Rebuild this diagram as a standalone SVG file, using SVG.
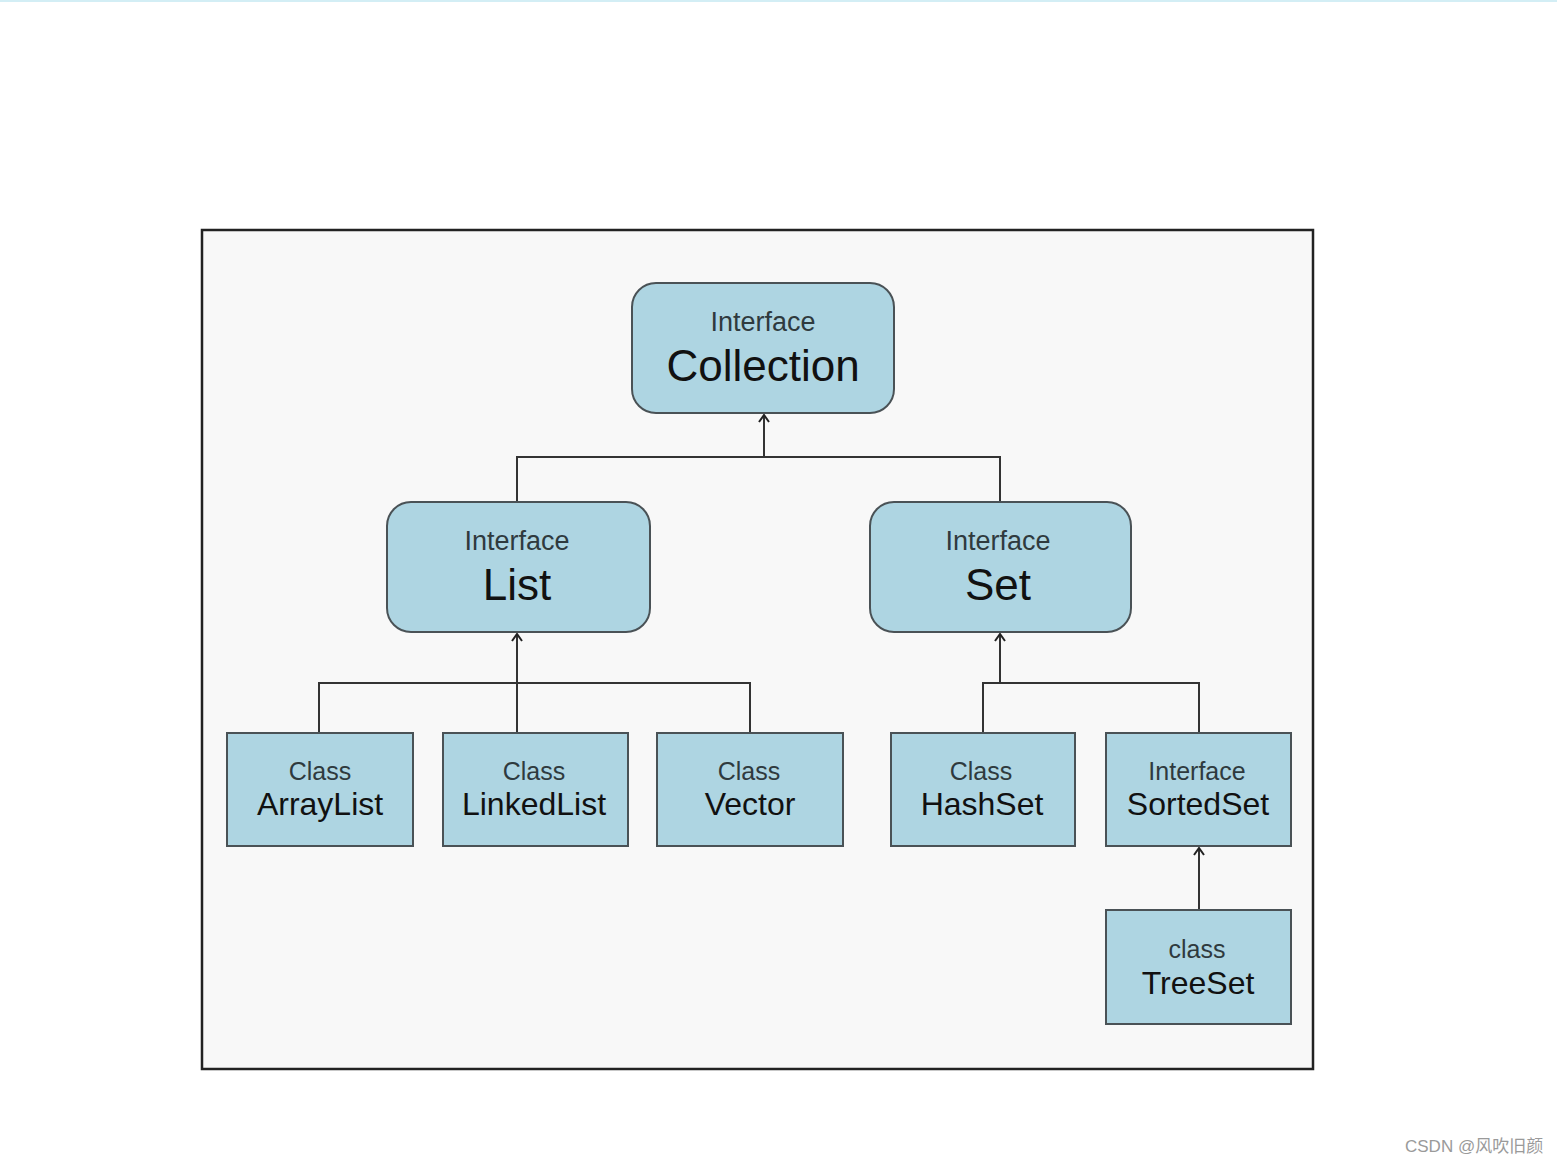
<svg xmlns="http://www.w3.org/2000/svg" width="1557" height="1164" viewBox="0 0 1557 1164">
<style>
.box{fill:#aed5e2;stroke:#4a5256;stroke-width:2}
.t1{font-family:"Liberation Sans",Arial,sans-serif;fill:#2f3a3e;text-anchor:middle}
.t2{font-family:"Liberation Sans",Arial,sans-serif;fill:#111;text-anchor:middle}
.ln{fill:none;stroke:#333;stroke-width:2}
</style>
<defs>
<marker id="arr" viewBox="0 0 12 12" refX="10" refY="6" markerWidth="12" markerHeight="12" markerUnits="userSpaceOnUse" orient="auto">
<path d="M3,1 L10,6 L3,11" fill="none" stroke="#222" stroke-width="2"/>
</marker>
</defs>
<rect x="0" y="0" width="1557" height="1164" fill="#ffffff"/>
<rect x="0" y="0" width="1557" height="2" fill="#d3eef5"/>
<rect x="202" y="230" width="1111" height="839" fill="#f8f8f8" stroke="#222" stroke-width="2.5"/>
<g id="connectors">
<path class="ln" d="M517,502 V457 H1000 V502"/>
<path class="ln" d="M764,457 V415" marker-end="url(#arr)"/>
<path class="ln" d="M319,733 V683 H750 V733"/>
<path class="ln" d="M517,733 V634" marker-end="url(#arr)"/>
<path class="ln" d="M983,733 V683 H1199 V733"/>
<path class="ln" d="M1000,683 V634" marker-end="url(#arr)"/>
<path class="ln" d="M1199,910 V848" marker-end="url(#arr)"/>
</g>
<g id="collection">
<rect class="box" x="632" y="283" width="262" height="130" rx="24"/>
<text class="t1" x="763" y="331" font-size="27">Interface</text>
<text class="t2" x="763" y="381" font-size="44">Collection</text>
</g>
<g id="list">
<rect class="box" x="387" y="502" width="263" height="130" rx="24"/>
<text class="t1" x="517" y="550" font-size="27">Interface</text>
<text class="t2" x="517" y="600" font-size="44">List</text>
</g>
<g id="set">
<rect class="box" x="870" y="502" width="261" height="130" rx="24"/>
<text class="t1" x="998" y="550" font-size="27">Interface</text>
<text class="t2" x="998" y="600" font-size="44">Set</text>
</g>
<g id="arraylist">
<rect class="box" x="227" y="733" width="186" height="113"/>
<text class="t1" x="320" y="780" font-size="25">Class</text>
<text class="t2" x="320" y="815" font-size="32">ArrayList</text>
</g>
<g id="linkedlist">
<rect class="box" x="443" y="733" width="185" height="113"/>
<text class="t1" x="534" y="780" font-size="25">Class</text>
<text class="t2" x="534" y="815" font-size="32">LinkedList</text>
</g>
<g id="vector">
<rect class="box" x="657" y="733" width="186" height="113"/>
<text class="t1" x="749" y="780" font-size="25">Class</text>
<text class="t2" x="750" y="815" font-size="32">Vector</text>
</g>
<g id="hashset">
<rect class="box" x="891" y="733" width="184" height="113"/>
<text class="t1" x="981" y="780" font-size="25">Class</text>
<text class="t2" x="982" y="815" font-size="32">HashSet</text>
</g>
<g id="sortedset">
<rect class="box" x="1106" y="733" width="185" height="113"/>
<text class="t1" x="1197" y="780" font-size="25">Interface</text>
<text class="t2" x="1198" y="815" font-size="32">SortedSet</text>
</g>
<g id="treeset">
<rect class="box" x="1106" y="910" width="185" height="114"/>
<text class="t1" x="1197" y="958" font-size="25">class</text>
<text class="t2" x="1198" y="994" font-size="32">TreeSet</text>
</g>
<text x="1405" y="1152" font-family="'Liberation Sans','Noto Sans CJK SC',sans-serif" font-size="17" fill="#9a9a9a">CSDN @风吹旧颜</text>
</svg>
